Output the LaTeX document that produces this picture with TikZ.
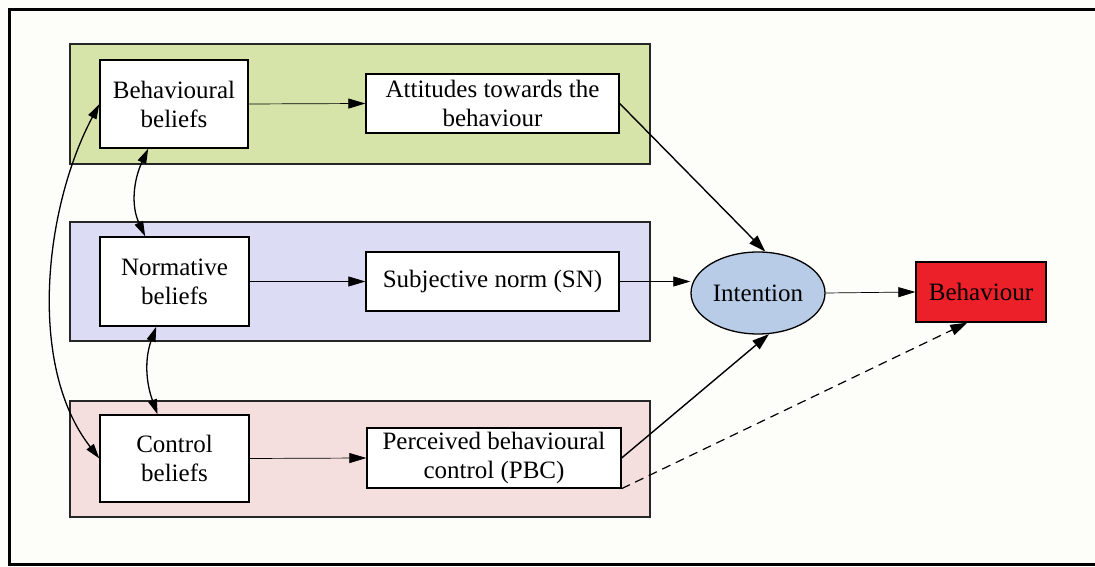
\documentclass[tikz,border=0pt]{standalone}
\usepackage{fontspec}
\setmainfont{Liberation Serif}
\usetikzlibrary{arrows.meta,shapes.geometric,calc}
\definecolor{bgc}{HTML}{FDFDF9}
\definecolor{greenp}{HTML}{D6E4AA}
\definecolor{bluep}{HTML}{DCDCF5}
\definecolor{pinkp}{HTML}{F5DEDE}
\definecolor{intc}{HTML}{B8CCE8}
\definecolor{behc}{HTML}{EC2028}
\begin{document}
\begin{tikzpicture}[x=1pt,y=1pt,
  txt/.style={font=\fontsize{25}{29}\selectfont, align=center, inner sep=0pt},
  box/.style={txt, draw=black, fill=white, line width=1.3pt},
  panel/.style={draw=black!85, line width=1.2pt, inner sep=0pt},
  conn/.style={-{Triangle[length=17pt,width=10pt]}, line width=0.7pt},
  thick conn/.style={-{Triangle[length=17pt,width=11pt]}, line width=1.4pt},
  dbl/.style={{Triangle[length=15pt,width=9pt]}-{Triangle[length=15pt,width=9pt]}, line width=1.3pt}]
\useasboundingbox (0,0) rectangle (1095,567);
\clip (0,0) rectangle (1095,567);
\fill[bgc] (0,0) rectangle (1095,567);
\draw[line width=3pt] (9,2) rectangle (1110,557);
% panels
\node[panel, fill=greenp, minimum width=580, minimum height=120] (gp) at (360,463) {};
\node[panel, fill=bluep, minimum width=580, minimum height=119] (bp) at (360,285.5) {};
\node[panel, fill=pinkp, minimum width=580, minimum height=116] (pp) at (360,108) {};
% boxes
\node[box, minimum width=148, minimum height=88] (bb) at (174,463) {Behavioural\\beliefs};
\node[box, minimum width=253, minimum height=59] (att) at (492.5,463.5) {Attitudes towards the\\behaviour};
\node[box, minimum width=149, minimum height=89] (nb) at (174.5,285.5) {Normative\\beliefs};
\node[box, minimum width=253, minimum height=59] (sn) at (492.5,285.5) {Subjective norm (SN)};
\node[box, minimum width=149, minimum height=87] (cb) at (174.5,108.5) {Control\\beliefs};
\node[box, minimum width=254, minimum height=60] (pbc) at (494,109) {Perceived behavioural\\control (PBC)};
\node[txt, ellipse, draw=black, line width=1.3pt, fill=intc, minimum width=134, minimum height=82] (int) at (758,274) {Intention};
\node[box, fill=behc, minimum width=130, minimum height=60] (beh) at (981,275) {Behaviour};
% connectors
\draw[conn] (bb.east) -- (att.west);
\draw[conn] (nb.east) -- (sn.west);
\draw[conn] (cb.east) -- (pbc.west);
\draw[thick conn] (att.east) -- (int.80);
\draw[conn] (sn.east) -- (sn.east -| int.west);
\draw[conn] (int.east) -- (beh.west);
\draw[thick conn] (pbc.east) -- (int.-75);
\draw[thick conn, line width=1.2pt, dash pattern=on 9pt off 6pt] (pbc.south east) -- (beh.246);
\draw[dbl] (bb.240) to[out=245,in=115] (nb.123);
\draw[dbl] (nb.248) to[out=250,in=110] (cb.111);
\draw[dbl] (bb.west) to[out=242,in=128,looseness=0.85] (cb.west);
\end{tikzpicture}
\end{document}
